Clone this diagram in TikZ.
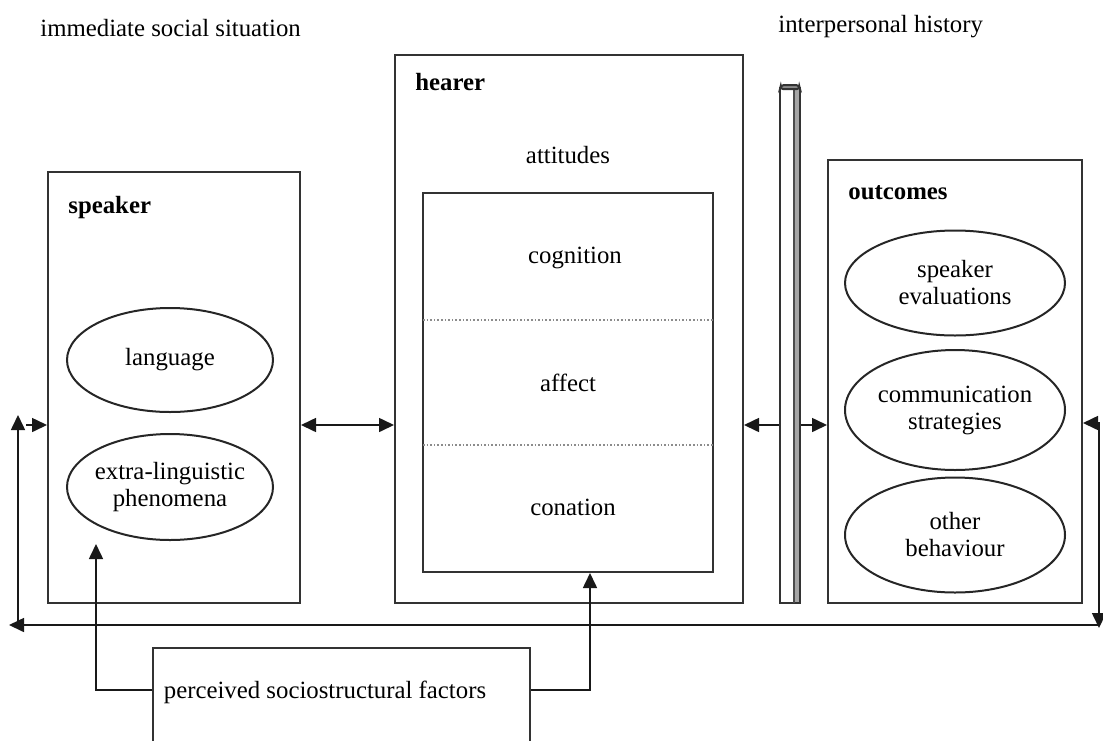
\documentclass[tikz,border=0pt]{standalone}
\usepackage{fontspec}
\setmainfont{Liberation Serif}
\usetikzlibrary{shapes.geometric,arrows.meta}
\begin{document}
\begin{tikzpicture}[x=0.5pt,y=-0.5pt,
  box/.style={draw=black!80,line width=1pt,inner sep=0pt},
  oval/.style={draw=black!85,line width=1pt,ellipse,inner xsep=-14pt,inner ysep=-6pt,align=center,font=\fontsize{12.4}{13.5}\selectfont},
  lbl/.style={font=\fontsize{12.4}{13.5}\selectfont,inner sep=0pt,align=center},
  ttl/.style={font=\fontsize{12.4}{13.5}\selectfont\bfseries,inner sep=0pt,anchor=west},
  conn/.style={draw=black!90,line width=0.8pt},
  tip/.style={-{Triangle[length=7.5pt,width=7pt]}},
  tips/.style={{Triangle[length=7.5pt,width=7pt]}-{Triangle[length=7.5pt,width=7pt]}}]
\useasboundingbox (0,0) rectangle (1103,740);
% boxes
\node[box,minimum width=126pt,minimum height=215.5pt] (spk) at (174,387.5) {};
\node[box,minimum width=174pt,minimum height=274pt] (hear) at (569,329) {};
\node[box,minimum width=145pt,minimum height=189.5pt] (att) at (568,382.5) {};
\node[box,minimum width=127pt,minimum height=221.5pt] (out) at (955,381.5) {};
\node[box,minimum width=188.5pt,minimum height=56pt] (psf) at (341.5,704) {};
% pillar
\fill[black!35] (794,88) rectangle (800,603);
\node[box,minimum width=10pt,minimum height=257.5pt] (pil) at (790,345.5) {};
\draw[black!70,line width=0.6pt] (794,88) -- (794,603);
\draw[black!80,line width=1pt,fill=black!45,rounded corners=1.5pt] (780,89) -- (781,85) -- (799,85) -- (800,89) -- cycle;
% titles
\node[ttl] (tspk) at (68,208) {speaker};
\node[ttl] (thear) at (415,82) {hearer};
\node[ttl] (tout) at (848,193) {outcomes};
\node[lbl,anchor=west] (iss) at (40,28) {immediate social situation};
\node[lbl,anchor=west] (iph) at (778,27) {interpersonal history};
% hearer contents
\node[lbl] (tatt) at (568,155) {attitudes};
\node[lbl] (cog) at (575,258) {cognition};
\node[lbl] (aff) at (568,383) {affect};
\node[lbl] (con) at (573,507) {conation};
\draw[black!45,densely dotted,line width=0.8pt] (423,320) -- (713,320);
\draw[black!45,densely dotted,line width=0.8pt] (423,445) -- (713,445);
% ellipses
\node[oval,minimum width=103pt,minimum height=52pt] (lang) at (170,360) {language};
\node[oval,minimum width=103pt,minimum height=53pt] (extra) at (170,487) {extra-linguistic\\phenomena};
\node[oval,minimum width=110pt,minimum height=52.5pt] (seval) at (955,283) {speaker\\evaluations};
\node[oval,minimum width=110pt,minimum height=60pt] (comm) at (955,410) {communication\\strategies};
\node[oval,minimum width=110pt,minimum height=57.5pt] (oth) at (955,535) {other\\behaviour};
% bottom text
\node[lbl] (psft) at (325,692) {perceived sociostructural factors};
% connectors
\coordinate (r425) at (0,425);
\coordinate (r690) at (0,690);
\draw[conn,tips] (spk.east |- r425) -- (hear.west |- r425);
\draw[conn,tip] (pil.west |- r425) -- (hear.east |- r425);
\draw[conn,tip] (pil.east |- r425) -- (out.west |- r425);
\coordinate (fr) at (1099,423);
\coordinate (fb) at (1099,628);
\coordinate (fbh) at (1099,625);
\coordinate (fl) at (9,625);
\coordinate (fc) at (18,625);
\coordinate (fu) at (18,415);
\coordinate (fs) at (26,425);
\draw[conn,tips] (out.east |- fr) -- (fr) -- (fb);
\draw[conn,tip] (fbh) -- (fl);
\draw[conn,tip] (fc) -- (fu);
\draw[conn,tip] (fs) -- (spk.west |- r425);
\coordinate (el) at (96,690);
\coordinate (et) at (96,544);
\coordinate (cr) at (590,690);
\draw[conn,tip] (psf.west |- r690) -- (el) -- (et);
\draw[conn,tip] (psf.east |- r690) -- (cr) -- (att.south -| cr);
\end{tikzpicture}
\end{document}
